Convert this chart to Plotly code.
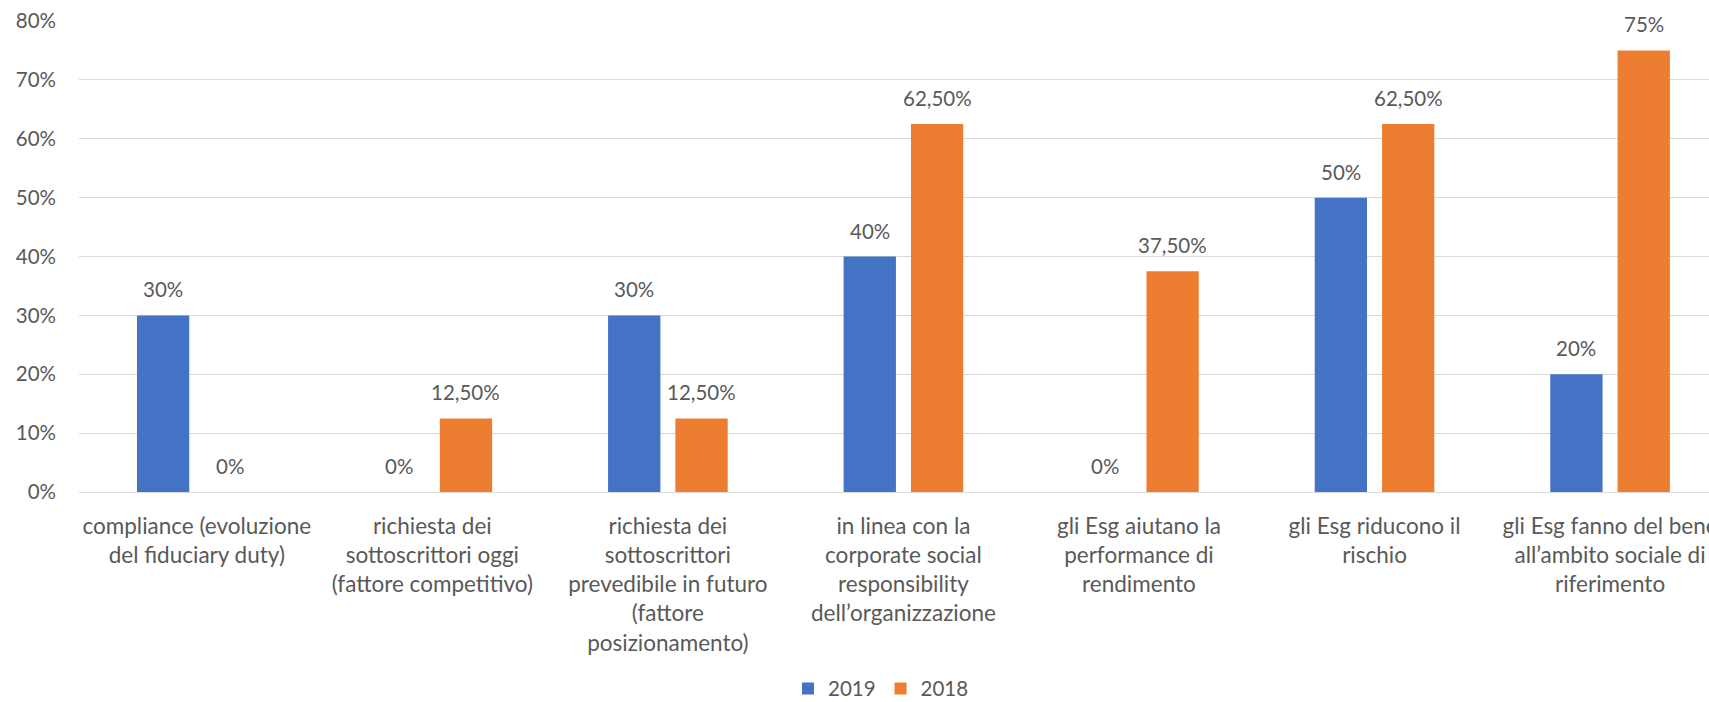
import plotly.graph_objects as go

categories = [
    "compliance (evoluzione del fiduciary duty)",
    "richiesta dei sottoscrittori oggi (fattore competitivo)",
    "richiesta dei sottoscrittori prevedibile in futuro (fattore posizionamento)",
    "in linea con la corporate social responsibility dell’organizzazione",
    "gli Esg aiutano la performance di rendimento",
    "gli Esg riducono il rischio",
    "gli Esg fanno del bene all’ambito sociale di riferimento",
]
tick_labels = [
    "compliance (evoluzione<br>del fiduciary duty)",
    "richiesta dei<br>sottoscrittori oggi<br>(fattore competitivo)",
    "richiesta dei<br>sottoscrittori<br>prevedibile in futuro<br>(fattore<br>posizionamento)",
    "in linea con la<br>corporate social<br>responsibility<br>dell’organizzazione",
    "gli Esg aiutano la<br>performance di<br>rendimento",
    "gli Esg riducono il<br>rischio",
    "gli Esg fanno del bene<br>all’ambito sociale di<br>riferimento",
]
values_2019 = [0.30, 0.0, 0.30, 0.40, 0.0, 0.50, 0.20]
values_2018 = [0.0, 0.125, 0.125, 0.625, 0.375, 0.625, 0.75]
y_ticks = [0, 0.1, 0.2, 0.3, 0.4, 0.5, 0.6, 0.7, 0.8]
y_tick_labels = ["0%", "10%", "20%", "30%", "40%", "50%", "60%", "70%", "80%"]

FONT = "Lato, 'Open Sans', sans-serif"
GREY = "#595959"
BLUE = "#4472C4"
ORANGE = "#ED7D31"
NUM_SIZE = 20.5
CAT_SIZE = 22.5


def fmt(v):
    p = v * 100
    if abs(p - round(p)) < 1e-9:
        return f"{int(round(p))}%"
    return f"{p:.2f}%".replace(".", ",")


fig = go.Figure()
fig.add_trace(go.Bar(name="2019", x=categories, y=values_2019, marker_color=BLUE))
fig.add_trace(go.Bar(name="2018", x=categories, y=values_2018, marker_color=ORANGE))

for vals, shift in ((values_2019, -33.6), (values_2018, 33.6)):
    for c, v in zip(categories, vals):
        fig.add_annotation(
            x=c, y=v, xref="x", yref="y", text=fmt(v), showarrow=False,
            xshift=shift, yshift=26, yanchor="middle", xanchor="center",
            font=dict(family=FONT, size=NUM_SIZE, color=GREY),
        )

fig.update_layout(
    template="none",
    width=1709, height=702, autosize=False,
    margin=dict(l=79, r=0, t=21, b=210, pad=0),
    paper_bgcolor="white", plot_bgcolor="white",
    font=dict(family=FONT, size=NUM_SIZE, color=GREY),
    barmode="group", bargap=0.4285, bargroupgap=0.223,
    showlegend=True,
    legend=dict(
        orientation="h", xref="container", yref="container",
        x=0.5155, xanchor="center", y=0.019, yanchor="middle",
        font=dict(family=FONT, size=NUM_SIZE, color=GREY),
        itemwidth=30, tracegroupgap=0,
    ),
)
fig.update_xaxes(
    type="category", range=[-0.5, 6.42], tickvals=categories, ticktext=tick_labels,
    showgrid=False, showline=False, zeroline=False, ticks="", automargin=False,
    ticklabelstandoff=18, tickfont=dict(family=FONT, size=CAT_SIZE, color=GREY),
)
fig.update_yaxes(
    range=[0, 0.8], tickvals=y_ticks, ticktext=y_tick_labels,
    showgrid=True, gridcolor="#D9D9D9", gridwidth=1,
    zeroline=True, zerolinecolor="#D9D9D9", zerolinewidth=1,
    showline=False, ticks="", automargin=False, ticklabelstandoff=22,
    tickfont=dict(family=FONT, size=NUM_SIZE, color=GREY),
)

fig.write_html(
    "out.html",
    config={"displayModeBar": False},
    post_script="document.body.style.margin='0px';document.body.style.overflow='hidden';",
)
